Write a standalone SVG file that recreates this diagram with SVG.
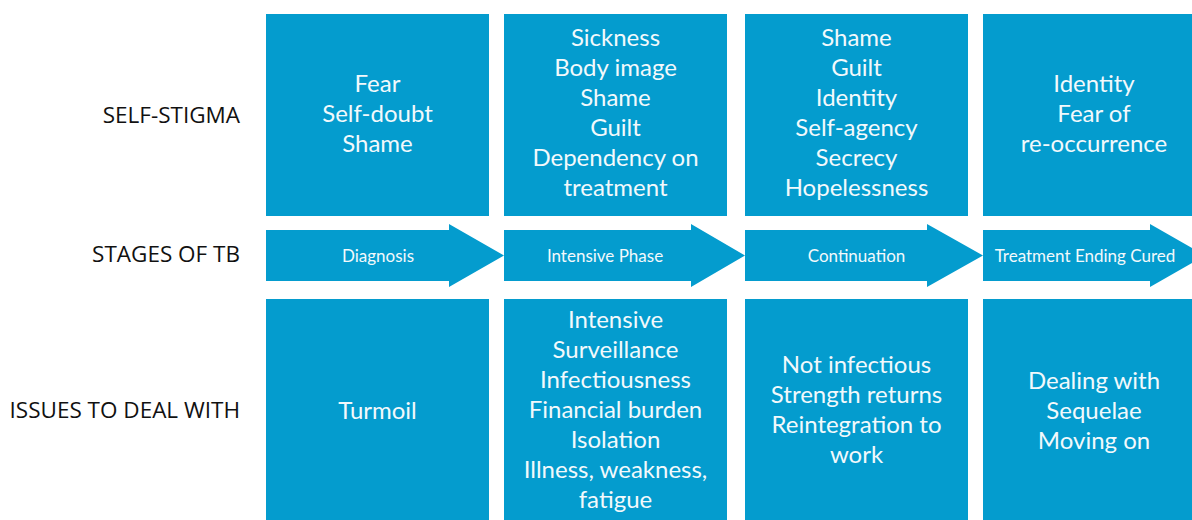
<svg xmlns="http://www.w3.org/2000/svg" width="1192" height="520" viewBox="0 0 1192 520">
<style>
.box{fill:#049cce}
.t{font-family:Lato,"Open Sans",sans-serif;font-size:24px;fill:#f2f9fc;text-anchor:middle}
.s{font-family:Lato,"Open Sans",sans-serif;font-size:17px;fill:#f2f9fc;text-anchor:middle}
.l{font-family:"Open Sans","Noto Sans",sans-serif;font-size:22.5px;fill:#111;text-anchor:end}
</style>
<rect width="1192" height="520" fill="#fff"/>
<g id="labels">
<text class="l" x="240" y="123">SELF-STIGMA</text>
<text class="l" x="240" y="262">STAGES OF TB</text>
<text class="l" x="240" y="418">ISSUES TO DEAL WITH</text>
</g>
<g id="self-stigma-diagnosis">
<rect class="box" x="266" y="14" width="223" height="202"/>
<text class="t" x="377.5" y="92">Fear</text>
<text class="t" x="377.5" y="122">Self-doubt</text>
<text class="t" x="377.5" y="152">Shame</text>
</g>
<g id="self-stigma-intensive">
<rect class="box" x="504" y="14" width="223" height="202"/>
<text class="t" x="615.5" y="46">Sickness</text>
<text class="t" x="615.5" y="76">Body image</text>
<text class="t" x="615.5" y="106">Shame</text>
<text class="t" x="615.5" y="136">Guilt</text>
<text class="t" x="615.5" y="166">Dependency on</text>
<text class="t" x="615.5" y="196">treatment</text>
</g>
<g id="self-stigma-continuation">
<rect class="box" x="745" y="14" width="223" height="202"/>
<text class="t" x="856.5" y="46">Shame</text>
<text class="t" x="856.5" y="76">Guilt</text>
<text class="t" x="856.5" y="106">Identity</text>
<text class="t" x="856.5" y="136">Self-agency</text>
<text class="t" x="856.5" y="166">Secrecy</text>
<text class="t" x="856.5" y="196">Hopelessness</text>
</g>
<g id="self-stigma-cured">
<rect class="box" x="983" y="14" width="209" height="202"/>
<text class="t" x="1094" y="92">Identity</text>
<text class="t" x="1094" y="122">Fear of</text>
<text class="t" x="1094" y="152">re-occurrence</text>
</g>
<g id="connectors">
<g id="stage-diagnosis">
<polygon class="box" points="266,230 449,230 449,224 504,255.5 449,287 449,281 266,281"/>
<text class="s" x="378" y="262">Diagnosis</text>
</g>
<g id="stage-intensive">
<polygon class="box" points="504,230 691,230 691,224 745,255.5 691,287 691,281 504,281"/>
<text class="s" x="605" y="262">Intensive Phase</text>
</g>
<g id="stage-continuation">
<polygon class="box" points="745,230 927,230 927,224 983,255.5 927,287 927,281 745,281"/>
<text class="s" x="856.5" y="262">Continuation</text>
</g>
<g id="stage-cured">
<polygon class="box" points="983,230 1150,230 1150,224 1205,255.5 1150,287 1150,281 983,281"/>
<text class="s" x="1085" y="262">Treatment Ending Cured</text>
</g>
</g>
<g id="issues-diagnosis">
<rect class="box" x="266" y="299" width="223" height="221"/>
<text class="t" x="377.5" y="419">Turmoil</text>
</g>
<g id="issues-intensive">
<rect class="box" x="504" y="299" width="223" height="221"/>
<text class="t" x="615.5" y="328">Intensive</text>
<text class="t" x="615.5" y="358">Surveillance</text>
<text class="t" x="615.5" y="388">Infectiousness</text>
<text class="t" x="615.5" y="418">Financial burden</text>
<text class="t" x="615.5" y="448">Isolation</text>
<text class="t" x="615.5" y="478">Illness, weakness,</text>
<text class="t" x="615.5" y="508">fatigue</text>
</g>
<g id="issues-continuation">
<rect class="box" x="745" y="299" width="223" height="221"/>
<text class="t" x="856.5" y="373">Not infectious</text>
<text class="t" x="856.5" y="403">Strength returns</text>
<text class="t" x="856.5" y="433">Reintegration to</text>
<text class="t" x="856.5" y="463">work</text>
</g>
<g id="issues-cured">
<rect class="box" x="983" y="299" width="209" height="221"/>
<text class="t" x="1094" y="389">Dealing with</text>
<text class="t" x="1094" y="419">Sequelae</text>
<text class="t" x="1094" y="449">Moving on</text>
</g>
</svg>
